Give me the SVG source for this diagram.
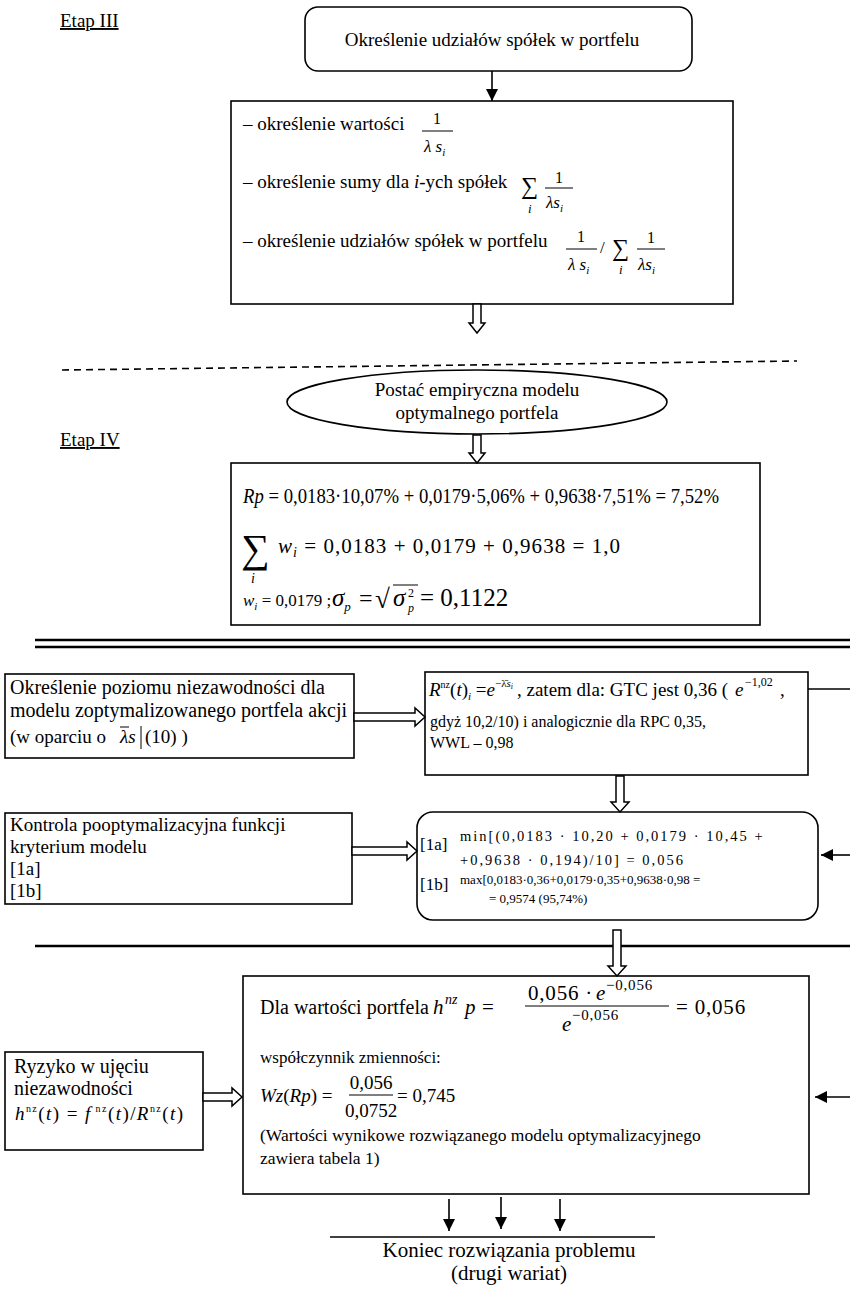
<svg xmlns="http://www.w3.org/2000/svg" width="850" height="1292" viewBox="0 0 850 1292" font-family="'Liberation Serif','Times New Roman',serif">
<defs>
<style>
text{font-family:"Liberation Serif","Times New Roman",serif;fill:#000}
.f21{font-size:21px}
.f20{font-size:20px}
.f19{font-size:19px}
.f17{font-size:17px}
.f16{font-size:16px}
.f14{font-size:14.5px}
.it{font-style:italic}
.mid{text-anchor:middle}
.box{fill:#fff;stroke:#000;stroke-width:1.6}
.hollow{fill:#fff;stroke:#000;stroke-width:1.5}
.ln{fill:none;stroke:#000;stroke-width:1.6}
.bar{stroke:#000;stroke-width:1}
.sep{fill:none;stroke:#000;stroke-width:2.6}
</style>
<marker id="head" viewBox="0 0 10 10" refX="10" refY="5" markerWidth="12" markerHeight="13" markerUnits="userSpaceOnUse" orient="auto">
<path d="M0,0 L10,5 L0,10 Z" fill="#000"/>
</marker>
</defs>
<rect width="850" height="1292" fill="#fff"/>

<!-- section labels and dividers -->
<g id="labels">
<text x="60" y="27" class="f19" text-decoration="underline">Etap III</text>
<text x="60" y="446" class="f19" text-decoration="underline">Etap IV</text>
</g>
<g id="dividers">
<line x1="62" y1="370" x2="797" y2="361" class="ln" stroke-width="1.5" stroke-dasharray="7 5"/>
<line x1="35" y1="640" x2="850" y2="640" class="sep"/>
<line x1="35" y1="647" x2="850" y2="647" class="sep"/>
<line x1="35" y1="946" x2="850" y2="946" class="sep"/>
<line x1="330" y1="1237" x2="655" y2="1237" class="ln"/>
</g>

<!-- stage III -->
<g id="n-shares">
<rect x="305" y="7" width="387" height="64" rx="13" class="box"/>
<text x="492" y="46" class="f19 mid">Określenie udziałów spółek w portfelu</text>
</g>

<g id="n-steps">
<rect x="231" y="101" width="502" height="203" class="box"/>
<text x="243" y="130" class="f19">– określenie wartości</text>
<text x="437" y="124" class="f16 mid">1</text>
<line x1="422" y1="131" x2="453" y2="131" class="bar"/>
<text x="424" y="152" class="f17 it">λ s<tspan font-size="11" dy="4">i</tspan></text>

<text x="243" y="188" class="f19">– określenie sumy dla <tspan class="it">i</tspan>-ych spółek</text>
<text x="521" y="194" font-size="24">∑</text>
<text x="528" y="213" font-size="13" class="it">i</text>
<text x="559" y="183" class="f16 mid">1</text>
<line x1="545" y1="188" x2="573" y2="188" class="bar"/>
<text x="546" y="208" class="f17 it">λs<tspan font-size="11" dy="4">i</tspan></text>

<text x="243" y="247" class="f19">– określenie udziałów spółek w portfelu</text>
<text x="581" y="242" class="f16 mid">1</text>
<line x1="566" y1="249" x2="597" y2="249" class="bar"/>
<text x="568" y="270" class="f17 it">λ s<tspan font-size="11" dy="4">i</tspan></text>
<text x="600" y="253" class="f17">/</text>
<text x="612" y="256" font-size="24">∑</text>
<text x="619" y="274" font-size="13" class="it">i</text>
<text x="651" y="243" class="f16 mid">1</text>
<line x1="637" y1="249" x2="665" y2="249" class="bar"/>
<text x="638" y="270" class="f17 it">λs<tspan font-size="11" dy="4">i</tspan></text>
</g>

<!-- stage IV -->
<g id="n-empirical">
<ellipse cx="477" cy="402" rx="190" ry="32" class="box"/>
<text x="477" y="396" class="f19 mid">Postać empiryczna modelu</text>
<text x="477" y="419" class="f19 mid">optymalnego portfela</text>
</g>

<g id="n-result">
<rect x="231" y="463" width="529" height="162" class="box"/>
<text x="243" y="503" class="f20" textLength="476" lengthAdjust="spacingAndGlyphs"><tspan class="it">Rp</tspan> = 0,0183·10,07% + 0,0179·5,06% + 0,9638·7,51% = 7,52%</text>
<text x="241" y="562" font-size="40">∑</text>
<text x="251" y="583" font-size="14" class="it">i</text>
<text x="278" y="553" class="f21" textLength="342" lengthAdjust="spacing"><tspan class="it">w</tspan><tspan class="it" font-size="14" dy="4">i</tspan><tspan dy="-4"> = 0,0183  + 0,0179  + 0,9638  = 1,0</tspan></text>
<text x="243" y="606" class="f17"><tspan class="it">w</tspan><tspan class="it" font-size="11" dy="4">i</tspan><tspan dy="-4"> = 0,0179 ;</tspan></text>
<text x="332" y="606" font-size="25" class="it">σ<tspan font-size="13" dy="5">p</tspan></text>
<text x="359" y="606" font-size="24">=</text>
<text x="375" y="608" font-size="27">√</text>
<line x1="393" y1="585" x2="418" y2="585" class="bar" stroke-width="1.2"/>
<text x="393" y="606" font-size="25" class="it">σ</text>
<text x="408" y="597" font-size="12">2</text>
<text x="408" y="612" font-size="12" class="it">p</text>
<text x="420" y="606" font-size="25">= 0,1122</text>
</g>

<!-- reliability section -->
<g id="n-reliability-level">
<rect x="5" y="674" width="349" height="84" class="box"/>
<text x="10" y="694" class="f20">Określenie poziomu niezawodności dla</text>
<text x="10" y="717" class="f20">modelu zoptymalizowanego portfela akcji</text>
<text x="10" y="743" class="f19">(w oparciu o </text>
<text x="120" y="743" class="f19 it">λs</text>
<line x1="120" y1="727" x2="129" y2="727" class="bar"/>
<line x1="141" y1="726" x2="141" y2="749" class="bar"/>
<text x="145" y="743" class="f19">(10) )</text>
</g>

<g id="n-reliability-formula">
<rect x="425" y="672" width="383" height="103" class="box"/>
<text x="429" y="696" class="f19"><tspan class="it">R</tspan><tspan font-size="10" dy="-8">nz</tspan><tspan dy="8">(</tspan><tspan class="it">t</tspan>)<tspan class="it" font-size="11" dy="4">i</tspan><tspan dy="-4"> =</tspan><tspan class="it">e</tspan><tspan font-size="11" dy="-9">−λ̄</tspan><tspan class="it" font-size="11">s</tspan><tspan class="it" font-size="8" dy="2">i</tspan></text>
<text x="517" y="696" class="f19">, zatem dla: GTC jest 0,36 (</text>
<text x="735" y="696" class="f19 it">e</text>
<text x="745" y="686" font-size="12">−1,02</text>
<text x="780" y="696" class="f19">,</text>
<text x="430" y="727" class="f16">gdyż 10,2/10) i analogicznie dla RPC 0,35,</text>
<text x="430" y="748" class="f16">WWL – 0,98</text>
</g>

<g id="n-control">
<rect x="5" y="813" width="347" height="91" class="box"/>
<text x="10" y="831" class="f19">Kontrola pooptymalizacyjna funkcji</text>
<text x="10" y="853" class="f19">kryterium modelu</text>
<text x="10" y="875" class="f19">[1a]</text>
<text x="10" y="897" class="f19">[1b]</text>
</g>

<g id="n-criteria">
<rect x="417" y="812" width="401" height="108" rx="16" class="box"/>
<text x="420" y="850" class="f17">[1a]</text>
<text x="460" y="841" class="f14" letter-spacing="2">min[(0,0183 · 10,20 + 0,0179 · 10,45 +</text>
<text x="460" y="865" class="f14" letter-spacing="2">+0,9638 · 0,194)/10] = 0,056</text>
<text x="420" y="890" class="f17">[1b]</text>
<text x="460" y="884" font-size="13">max[0,0183·0,36+0,0179·0,35+0,9638·0,98 =</text>
<text x="489" y="903" font-size="13">= 0,9574  (95,74%)</text>
</g>

<!-- risk section -->
<g id="n-risk">
<rect x="5" y="1052" width="198" height="98" class="box"/>
<text x="14" y="1073" class="f20">Ryzyko w ujęciu</text>
<text x="14" y="1095" class="f20">niezawodności</text>
<text x="15" y="1120" class="f19" textLength="168" lengthAdjust="spacing"><tspan class="it">h</tspan><tspan font-size="10" dy="-8">nz</tspan><tspan dy="8">(</tspan><tspan class="it">t</tspan>) = <tspan class="it">f</tspan><tspan font-size="10" dy="-8"> nz</tspan><tspan dy="8">(</tspan><tspan class="it">t</tspan>)/<tspan class="it">R</tspan><tspan font-size="10" dy="-8">nz</tspan><tspan dy="8">(</tspan><tspan class="it">t</tspan>)</text>
</g>

<g id="n-portfolio-risk">
<rect x="243" y="976" width="566" height="218" class="box"/>
<text x="260" y="1014" class="f20">Dla wartości portfela</text>
<text x="433" y="1014" class="f21 it">h</text>
<text x="445" y="1004" font-size="14" class="it">nz</text>
<text x="465" y="1014" class="f21 it">p</text>
<text x="482" y="1014" class="f21">=</text>
<text x="528" y="1000" class="f21" letter-spacing="0.8">0,056 ·</text>
<text x="596" y="1000" class="f21 it">e</text>
<text x="606" y="990" font-size="15" letter-spacing="0.8">−0,056</text>
<line x1="525" y1="1006" x2="669" y2="1006" class="bar"/>
<text x="562" y="1031" class="f21 it">e</text>
<text x="572" y="1020" font-size="15" letter-spacing="0.8">−0,056</text>
<text x="676" y="1014" class="f21" letter-spacing="0.8">= 0,056</text>

<text x="260" y="1063" class="f17">współczynnik zmienności:</text>
<text x="260" y="1102" class="f19"><tspan class="it">Wz</tspan>(<tspan class="it">Rp</tspan>) =</text>
<text x="371" y="1089" class="f19 mid">0,056</text>
<line x1="349" y1="1095" x2="393" y2="1095" class="bar"/>
<text x="371" y="1117" class="f19 mid">0,0752</text>
<text x="397" y="1102" class="f19">= 0,745</text>
<text x="260" y="1141" font-size="17.5">(Wartości wynikowe rozwiązanego modelu optymalizacyjnego</text>
<text x="260" y="1164" font-size="17.5">zawiera tabela 1)</text>
</g>

<g id="n-end">
<text x="509" y="1257" class="f21 mid">Koniec rozwiązania problemu</text>
<text x="509" y="1280" class="f21 mid">(drugi wariat)</text>
</g>

<!-- connectors -->
<g id="connectors">
<line x1="492" y1="71" x2="492" y2="101" class="ln" marker-end="url(#head)"/>
<path d="M473,304 V323 H469 L477,333 L485,323 H481 V304 Z" class="hollow"/>
<path d="M473,435 V453 H469 L477,463 L485,453 H481 V435 Z" class="hollow"/>
<path d="M354,713 H415 V708 L425,717 L415,726 V721 H354 Z" class="hollow"/>
<line x1="808" y1="689" x2="850" y2="689" class="ln"/>
<path d="M616,776 V802 H611 L620,812 L629,802 H624 V776 Z" class="hollow"/>
<path d="M352,847 H407 V842 L417,851 L407,860 V855 H352 Z" class="hollow"/>
<line x1="850" y1="855" x2="821" y2="855" class="ln" stroke-width="2" marker-end="url(#head)"/>
<path d="M613,930 V966 H608 L617,976 L626,966 H621 V930 Z" class="hollow"/>
<path d="M203,1093 H232 V1088 L242,1097 L232,1106 V1101 H203 Z" class="hollow"/>
<line x1="850" y1="1097" x2="815" y2="1097" class="ln" stroke-width="2" marker-end="url(#head)"/>
<line x1="449" y1="1199" x2="449" y2="1231" class="ln" stroke-width="2" marker-end="url(#head)"/>
<line x1="501" y1="1197" x2="501" y2="1229" class="ln" stroke-width="2" marker-end="url(#head)"/>
<line x1="560" y1="1199" x2="560" y2="1231" class="ln" stroke-width="2" marker-end="url(#head)"/>
</g>
</svg>
